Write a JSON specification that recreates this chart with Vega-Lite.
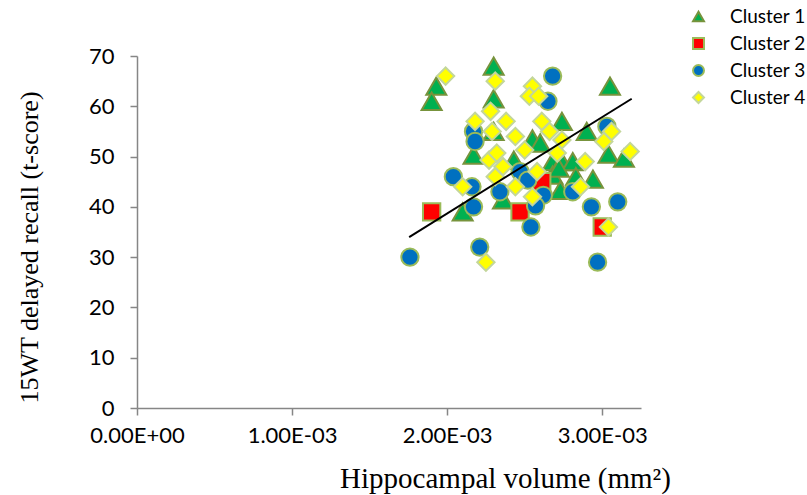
{
  "$schema": "https://vega.github.io/schema/vega-lite/v6.json",
  "autosize": {"type": "none"},
  "padding": {"left": 137, "top": 56, "right": 166, "bottom": 87},
  "width": 504,
  "height": 352,
  "background": "white",
  "config": {
    "view": {"stroke": null}
  },
  "datasets": {
    "points": [
      {"cluster": "Cluster 1", "volume": 0.00193, "recall": 64},
      {"cluster": "Cluster 1", "volume": 0.00190, "recall": 61},
      {"cluster": "Cluster 1", "volume": 0.00230, "recall": 68},
      {"cluster": "Cluster 1", "volume": 0.00230, "recall": 61.5},
      {"cluster": "Cluster 1", "volume": 0.00305, "recall": 64},
      {"cluster": "Cluster 1", "volume": 0.00274, "recall": 57},
      {"cluster": "Cluster 1", "volume": 0.00290, "recall": 55},
      {"cluster": "Cluster 1", "volume": 0.00255, "recall": 53.5},
      {"cluster": "Cluster 1", "volume": 0.00260, "recall": 52.7},
      {"cluster": "Cluster 1", "volume": 0.00230, "recall": 55},
      {"cluster": "Cluster 1", "volume": 0.00304, "recall": 50.5},
      {"cluster": "Cluster 1", "volume": 0.00314, "recall": 49.7},
      {"cluster": "Cluster 1", "volume": 0.00268, "recall": 49},
      {"cluster": "Cluster 1", "volume": 0.00274, "recall": 49},
      {"cluster": "Cluster 1", "volume": 0.00281, "recall": 49},
      {"cluster": "Cluster 1", "volume": 0.00217, "recall": 50.3},
      {"cluster": "Cluster 1", "volume": 0.00243, "recall": 49.3},
      {"cluster": "Cluster 1", "volume": 0.00268, "recall": 46.3},
      {"cluster": "Cluster 1", "volume": 0.00272, "recall": 47.7},
      {"cluster": "Cluster 1", "volume": 0.00294, "recall": 45.5},
      {"cluster": "Cluster 1", "volume": 0.00273, "recall": 43.3},
      {"cluster": "Cluster 1", "volume": 0.00236, "recall": 41.4},
      {"cluster": "Cluster 1", "volume": 0.00210, "recall": 39},
      {"cluster": "Cluster 1", "volume": 0.00283, "recall": 46},
      {"cluster": "Cluster 2", "volume": 0.00190, "recall": 39},
      {"cluster": "Cluster 2", "volume": 0.00247, "recall": 39},
      {"cluster": "Cluster 2", "volume": 0.00300, "recall": 36},
      {"cluster": "Cluster 2", "volume": 0.00261, "recall": 45},
      {"cluster": "Cluster 3", "volume": 0.00268, "recall": 66},
      {"cluster": "Cluster 3", "volume": 0.00265, "recall": 61},
      {"cluster": "Cluster 3", "volume": 0.00217, "recall": 55},
      {"cluster": "Cluster 3", "volume": 0.00218, "recall": 53},
      {"cluster": "Cluster 3", "volume": 0.00303, "recall": 56},
      {"cluster": "Cluster 3", "volume": 0.00204, "recall": 46},
      {"cluster": "Cluster 3", "volume": 0.00216, "recall": 44},
      {"cluster": "Cluster 3", "volume": 0.00234, "recall": 43},
      {"cluster": "Cluster 3", "volume": 0.00247, "recall": 47},
      {"cluster": "Cluster 3", "volume": 0.00252, "recall": 45.3},
      {"cluster": "Cluster 3", "volume": 0.00262, "recall": 42.3},
      {"cluster": "Cluster 3", "volume": 0.00257, "recall": 40.2},
      {"cluster": "Cluster 3", "volume": 0.00217, "recall": 40},
      {"cluster": "Cluster 3", "volume": 0.00281, "recall": 43},
      {"cluster": "Cluster 3", "volume": 0.00293, "recall": 40},
      {"cluster": "Cluster 3", "volume": 0.00310, "recall": 41},
      {"cluster": "Cluster 3", "volume": 0.00254, "recall": 36},
      {"cluster": "Cluster 3", "volume": 0.00221, "recall": 32},
      {"cluster": "Cluster 3", "volume": 0.00176, "recall": 30},
      {"cluster": "Cluster 3", "volume": 0.00297, "recall": 29},
      {"cluster": "Cluster 4", "volume": 0.00199, "recall": 66},
      {"cluster": "Cluster 4", "volume": 0.00231, "recall": 65},
      {"cluster": "Cluster 4", "volume": 0.00255, "recall": 64},
      {"cluster": "Cluster 4", "volume": 0.00253, "recall": 62},
      {"cluster": "Cluster 4", "volume": 0.00259, "recall": 62},
      {"cluster": "Cluster 4", "volume": 0.00228, "recall": 59},
      {"cluster": "Cluster 4", "volume": 0.00218, "recall": 57},
      {"cluster": "Cluster 4", "volume": 0.00238, "recall": 57},
      {"cluster": "Cluster 4", "volume": 0.00229, "recall": 55},
      {"cluster": "Cluster 4", "volume": 0.00244, "recall": 54},
      {"cluster": "Cluster 4", "volume": 0.00261, "recall": 57},
      {"cluster": "Cluster 4", "volume": 0.00266, "recall": 55},
      {"cluster": "Cluster 4", "volume": 0.00306, "recall": 55},
      {"cluster": "Cluster 4", "volume": 0.00301, "recall": 53},
      {"cluster": "Cluster 4", "volume": 0.00318, "recall": 51},
      {"cluster": "Cluster 4", "volume": 0.00274, "recall": 53.3},
      {"cluster": "Cluster 4", "volume": 0.00250, "recall": 51.3},
      {"cluster": "Cluster 4", "volume": 0.00271, "recall": 50.7},
      {"cluster": "Cluster 4", "volume": 0.00289, "recall": 49},
      {"cluster": "Cluster 4", "volume": 0.00227, "recall": 49.3},
      {"cluster": "Cluster 4", "volume": 0.00232, "recall": 50.7},
      {"cluster": "Cluster 4", "volume": 0.00236, "recall": 48},
      {"cluster": "Cluster 4", "volume": 0.00231, "recall": 46},
      {"cluster": "Cluster 4", "volume": 0.00258, "recall": 47},
      {"cluster": "Cluster 4", "volume": 0.00244, "recall": 44},
      {"cluster": "Cluster 4", "volume": 0.00210, "recall": 44},
      {"cluster": "Cluster 4", "volume": 0.00255, "recall": 42},
      {"cluster": "Cluster 4", "volume": 0.00286, "recall": 44},
      {"cluster": "Cluster 4", "volume": 0.00304, "recall": 36},
      {"cluster": "Cluster 4", "volume": 0.00225, "recall": 29}
    ],
    "trend": [
      {"volume": 0.001755, "recall": 34},
      {"volume": 0.00319, "recall": 61.5}
    ]
  },
  "layer": [
    {
      "data": {"name": "points"},
      "mark": {"type": "point", "filled": true, "strokeWidth": 2, "opacity": 1},
      "encoding": {
        "x": {
          "field": "volume", "type": "quantitative",
          "scale": {"domain": [0, 0.00325], "nice": false, "zero": false},
          "axis": {
            "values": [0, 0.001, 0.002, 0.003],
            "labelExpr": "datum.value == 0 ? '0.00E+00' : format(datum.value * 1000, '.2f') + 'E-03'",
            "labelFlush": false, "labelOverlap": false,
            "title": "Hippocampal volume (mm²)",
            "titleFont": "Liberation Serif", "titleFontSize": 29, "titleFontWeight": "normal", "titleColor": "#000000",
            "titleX": 368, "titleY": 70, "titleAlign": "center", "titleBaseline": "middle",
            "labelFont": "Lato", "labelFontSize": 22, "labelColor": "#000000", "labelPadding": 10,
            "domainColor": "#868686", "tickColor": "#868686", "tickSize": 7, "domainWidth": 1.5, "tickWidth": 1.5,
            "grid": false
          }
        },
        "y": {
          "field": "recall", "type": "quantitative",
          "scale": {"domain": [0, 70], "nice": false},
          "axis": {
            "values": [0, 10, 20, 30, 40, 50, 60, 70],
            "title": "15WT delayed recall (t-score)",
            "titleFont": "Liberation Serif", "titleFontSize": 26, "titleFontWeight": "normal", "titleColor": "#000000",
            "titleAngle": -90, "titleX": -108, "titleY": 191, "titleAlign": "center", "titleBaseline": "middle",
            "labelFont": "Lato", "labelFontSize": 22, "labelColor": "#000000", "labelPadding": 16,
            "domainColor": "#868686", "tickColor": "#868686", "tickSize": 7, "domainWidth": 1.5, "tickWidth": 1.5,
            "grid": false
          }
        },
        "shape": {
          "field": "cluster", "type": "nominal",
          "scale": {"domain": ["Cluster 1", "Cluster 2", "Cluster 3", "Cluster 4"], "range": ["triangle-up", "square", "circle", "diamond"]},
          "legend": {
            "title": null, "orient": "none", "legendX": 552, "legendY": -49, "padding": 0,
            "labelFont": "Lato", "labelFontSize": 19, "labelColor": "#000000", "labelOffset": 22,
            "symbolSize": 120, "symbolStrokeWidth": 2, "rowPadding": 7
          }
        },
        "fill": {
          "field": "cluster", "type": "nominal",
          "scale": {"domain": ["Cluster 1", "Cluster 2", "Cluster 3", "Cluster 4"], "range": ["#00B050", "#FF0000", "#0070C0", "#FFFF00"]}
        },
        "stroke": {
          "field": "cluster", "type": "nominal",
          "scale": {"domain": ["Cluster 1", "Cluster 2", "Cluster 3", "Cluster 4"], "range": ["#77933C", "#9BBB59", "#9BBB59", "#C3D69B"]}
        },
        "size": {
          "condition": {"test": "datum.cluster === 'Cluster 1'", "value": 400},
          "value": 300
        }
      }
    },
    {
      "data": {"name": "trend"},
      "mark": {"type": "line", "color": "#000000", "strokeWidth": 2},
      "encoding": {
        "x": {"field": "volume", "type": "quantitative"},
        "y": {"field": "recall", "type": "quantitative"}
      }
    }
  ]
}
